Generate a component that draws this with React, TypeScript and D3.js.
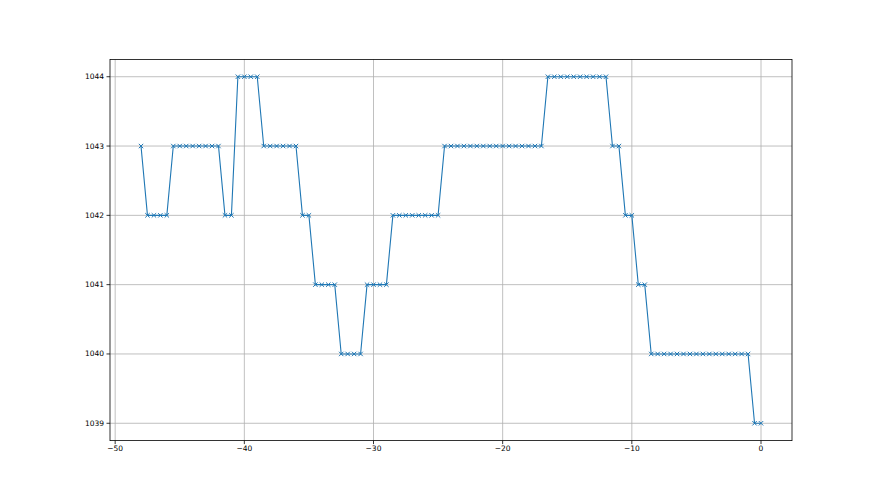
import React from "react";
import * as d3 from "d3";

const xValues: number[] = [
  -48, -47.5, -47, -46.5, -46, -45.5, -45, -44.5, -44, -43.5, -43, -42.5, -42,
  -41.5, -41, -40.5, -40, -39.5, -39, -38.5, -38, -37.5, -37, -36.5, -36,
  -35.5, -35, -34.5, -34, -33.5, -33, -32.5, -32, -31.5, -31, -30.5, -30,
  -29.5, -29, -28.5, -28, -27.5, -27, -26.5, -26, -25.5, -25, -24.5, -24,
  -23.5, -23, -22.5, -22, -21.5, -21, -20.5, -20, -19.5, -19, -18.5, -18,
  -17.5, -17, -16.5, -16, -15.5, -15, -14.5, -14, -13.5, -13, -12.5, -12,
  -11.5, -11, -10.5, -10, -9.5, -9, -8.5, -8, -7.5, -7, -6.5, -6, -5.5, -5,
  -4.5, -4, -3.5, -3, -2.5, -2, -1.5, -1, -0.5, 0,
];

const yValues: number[] = [
  1043,
  1042, 1042, 1042, 1042,
  1043, 1043, 1043, 1043, 1043, 1043, 1043, 1043,
  1042, 1042,
  1044, 1044, 1044, 1044,
  1043, 1043, 1043, 1043, 1043, 1043,
  1042, 1042,
  1041, 1041, 1041, 1041,
  1040, 1040, 1040, 1040,
  1041, 1041, 1041, 1041,
  1042, 1042, 1042, 1042, 1042, 1042, 1042, 1042,
  1043, 1043, 1043, 1043, 1043, 1043, 1043, 1043, 1043, 1043, 1043, 1043, 1043, 1043, 1043, 1043,
  1044, 1044, 1044, 1044, 1044, 1044, 1044, 1044, 1044, 1044,
  1043, 1043,
  1042, 1042,
  1041, 1041,
  1040, 1040, 1040, 1040, 1040, 1040, 1040, 1040, 1040, 1040, 1040, 1040, 1040, 1040, 1040, 1040,
  1039, 1039,
];

const xTicks: number[] = [-50, -40, -30, -20, -10, 0];
const yTicks: number[] = [1039, 1040, 1041, 1042, 1043, 1044];

const W = 880;
const H = 495;
const left = 110;
const right = 792;
const top = 59.4;
const bottom = 440.6;

export default function App() {
  const xMin = d3.min(xValues)!;
  const xMax = d3.max(xValues)!;
  const yMin = d3.min(yValues)!;
  const yMax = d3.max(yValues)!;
  const xPad = (xMax - xMin) * 0.05;
  const yPad = (yMax - yMin) * 0.05;
  const x = d3.scaleLinear().domain([xMin - xPad, xMax + xPad]).range([left, right]);
  const y = d3.scaleLinear().domain([yMin - yPad, yMax + yPad]).range([bottom, top]);
  const pts = xValues.map((v, i) => [v, yValues[i]] as [number, number]);
  const line = d3.line<[number, number]>().x((d) => x(d[0])).y((d) => y(d[1]));
  const color = "#1f77b4";
  const ms = 2.2;
  const font = "DejaVu Sans, sans-serif";
  const fs = 7.5;
  const fmtX = (v: number) => (v < 0 ? "\u2212" + Math.abs(v) : String(v));

  return (
    <svg width={W} height={H} style={{ position: "absolute", left: 0, top: 0, background: "#fff" }}>
      <rect x={0} y={0} width={W} height={H} fill="#fff" />
      {xTicks.map((t) => (
        <line key={"gx" + t} x1={x(t)} x2={x(t)} y1={top} y2={bottom} stroke="#b0b0b0" strokeWidth={0.8} />
      ))}
      {yTicks.map((t) => (
        <line key={"gy" + t} x1={left} x2={right} y1={y(t)} y2={y(t)} stroke="#b0b0b0" strokeWidth={0.8} />
      ))}
      <path d={line(pts)!} fill="none" stroke={color} strokeWidth={1.1} />
      {pts.map((p, i) => (
        <path
          key={"m" + i}
          d={`M${x(p[0]) - ms},${y(p[1]) - ms}L${x(p[0]) + ms},${y(p[1]) + ms}M${x(p[0]) - ms},${y(p[1]) + ms}L${x(p[0]) + ms},${y(p[1]) - ms}`}
          stroke={color}
          strokeWidth={1}
          fill="none"
        />
      ))}
      <rect x={left} y={top} width={right - left} height={bottom - top} fill="none" stroke="#000" strokeWidth={0.8} />
      {xTicks.map((t) => (
        <g key={"tx" + t}>
          <line x1={x(t)} x2={x(t)} y1={bottom} y2={bottom + 3.5} stroke="#000" strokeWidth={0.8} />
          <text x={x(t)} y={bottom + 5} textAnchor="middle" dominantBaseline="hanging" fontFamily={font} fontSize={fs} fill="#000">
            {fmtX(t)}
          </text>
        </g>
      ))}
      {yTicks.map((t) => (
        <g key={"ty" + t}>
          <line x1={left - 3.5} x2={left} y1={y(t)} y2={y(t)} stroke="#000" strokeWidth={0.8} />
          <text x={left - 6} y={y(t)} textAnchor="end" dominantBaseline="central" fontFamily={font} fontSize={fs} fill="#000">
            {t}
          </text>
        </g>
      ))}
    </svg>
  );
}
